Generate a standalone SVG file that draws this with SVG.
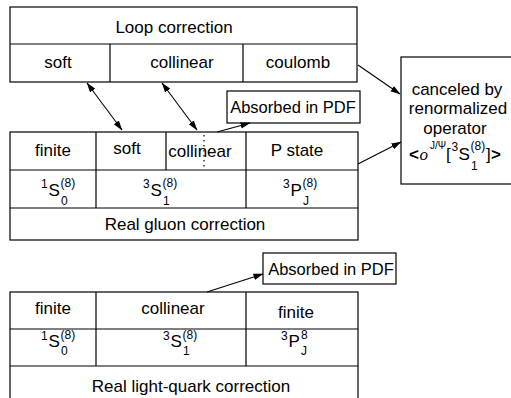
<svg xmlns="http://www.w3.org/2000/svg" width="511" height="398" viewBox="0 0 511 398">
<style>
.b{fill:#fff;stroke:#000;stroke-width:1.2}
.l{stroke:#000;stroke-width:1.2;fill:none}
.t{font-family:"Liberation Sans",Arial,sans-serif;font-size:17px;fill:#000}
.m{text-anchor:middle}
.s{font-size:12px}
.c{stroke:#000;stroke-width:1.1;fill:none}
</style>
<defs>
<marker id="ah" markerWidth="10" markerHeight="8" refX="9.5" refY="4" orient="auto" markerUnits="userSpaceOnUse">
<path d="M0,0.8 L10,4 L0,7.2 Z" fill="#000"/>
</marker>
<marker id="as" markerWidth="10" markerHeight="8" refX="0.5" refY="4" orient="auto" markerUnits="userSpaceOnUse">
<path d="M10,0.8 L0,4 L10,7.2 Z" fill="#000"/>
</marker>
</defs>
<rect width="511" height="398" fill="#fff"/>

<g id="loop">
<rect class="b" x="10" y="7" width="347" height="75"/>
<path class="l" d="M10,44 H357 M110,44 V82 M243,44 V82"/>
<text class="t m" x="174" y="33">Loop  correction</text>
<text class="t m" x="58" y="68">soft</text>
<text class="t m" x="182" y="68">collinear</text>
<text class="t m" x="298" y="68">coulomb</text>
</g>

<g id="absorbed1">
<rect class="b" x="227" y="91" width="133" height="32"/>
<text class="t m" x="293" y="113" style="font-size:16.5px">Absorbed in PDF</text>
</g>

<g id="gluon">
<rect class="b" x="10" y="132" width="348" height="108"/>
<path class="l" d="M10,170 H358 M10,208 H358 M96,132 V208 M166,132 V170 M246,132 V208"/>
<path d="M204,135 V168" stroke="#000" stroke-width="1.2" stroke-dasharray="1.5,3.5"/>
<text class="t m" x="53" y="156">finite</text>
<text class="t m" x="127" y="154">soft</text>
<text class="t m" x="200" y="157">collinear</text>
<text class="t m" x="297" y="156">P state</text>
<text class="t"><tspan class="s" x="41" y="188">1</tspan><tspan x="48.5" y="196">S</tspan><tspan class="s" x="60.5" y="187">(8)</tspan><tspan class="s" x="61" y="205">0</tspan></text>
<text class="t"><tspan class="s" x="143" y="188">3</tspan><tspan x="150.5" y="196">S</tspan><tspan class="s" x="162.5" y="187">(8)</tspan><tspan class="s" x="163" y="205">1</tspan></text>
<text class="t"><tspan class="s" x="283" y="188">3</tspan><tspan x="290.5" y="196">P</tspan><tspan class="s" x="302.5" y="187">(8)</tspan><tspan class="s" x="303" y="205">J</tspan></text>
<text class="t m" x="185" y="230">Real gluon correction</text>
</g>

<g id="renorm">
<rect class="b" x="401" y="57" width="120" height="127"/>
<text class="t m" x="457" y="95">canceled  by</text>
<text class="t m" x="458" y="114">renormalized</text>
<text class="t m" x="455" y="134">operator</text>
<text class="t"><tspan x="409" y="160" font-weight="bold">&lt;</tspan><tspan x="419.5" y="160" style="font-family:'Liberation Serif',serif;font-style:italic">o</tspan><tspan x="430" y="149" style="font-size:10px">J/Ψ</tspan><tspan x="446" y="160">[</tspan><tspan class="s" x="451.5" y="151">3</tspan><tspan x="458.5" y="160">S</tspan><tspan class="s" x="470.5" y="150">(8)</tspan><tspan class="s" x="471" y="170">1</tspan><tspan x="486" y="160">]</tspan><tspan x="491" y="160" font-weight="bold">&gt;</tspan></text>
</g>

<g id="absorbed2">
<rect class="b" x="263" y="253" width="133" height="31"/>
<text class="t m" x="331" y="275" style="font-size:16.5px">Absorbed in PDF</text>
</g>

<g id="lightquark">
<rect class="b" x="10" y="292" width="348" height="112"/>
<path class="l" d="M10,329 H358 M10,366 H358 M96,292 V366 M246,292 V366"/>
<text class="t m" x="53" y="314">finite</text>
<text class="t m" x="173" y="314">collinear</text>
<text class="t m" x="296" y="318">finite</text>
<text class="t"><tspan class="s" x="41" y="340">1</tspan><tspan x="48.5" y="347">S</tspan><tspan class="s" x="60.5" y="339">(8)</tspan><tspan class="s" x="61" y="355">0</tspan></text>
<text class="t"><tspan class="s" x="163" y="340">3</tspan><tspan x="170.5" y="347">S</tspan><tspan class="s" x="182.5" y="339">(8)</tspan><tspan class="s" x="183" y="355">1</tspan></text>
<text class="t"><tspan class="s" x="281" y="340">3</tspan><tspan x="288.5" y="347">P</tspan><tspan class="s" x="301" y="339">8</tspan><tspan class="s" x="301" y="355">J</tspan></text>
<text class="t m" x="191" y="392">Real light-quark correction</text>
</g>

<g id="connectors">
<line class="c" x1="87" y1="83" x2="122" y2="130" marker-start="url(#as)" marker-end="url(#ah)"/>
<line class="c" x1="162" y1="83" x2="197" y2="130" marker-start="url(#as)" marker-end="url(#ah)"/>
<line class="c" x1="217" y1="132" x2="250" y2="123" marker-end="url(#ah)"/>
<line class="c" x1="358" y1="65" x2="400" y2="94" marker-end="url(#ah)"/>
<line class="c" x1="358" y1="164" x2="401" y2="142" marker-end="url(#ah)"/>
<line class="c" x1="207" y1="292" x2="263" y2="274" marker-end="url(#ah)"/>
</g>
</svg>
